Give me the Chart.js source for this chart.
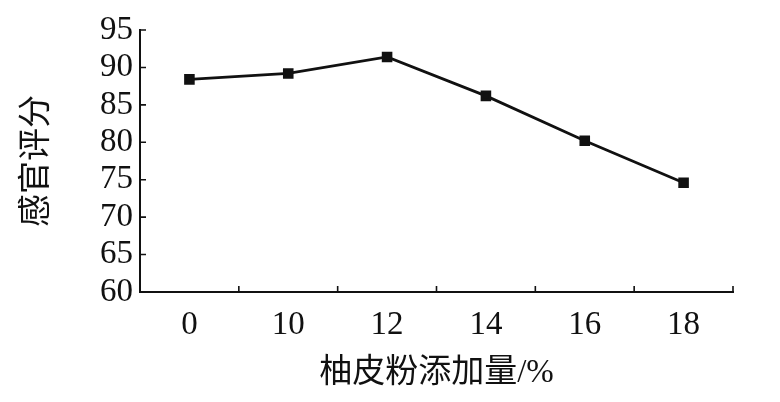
<!DOCTYPE html>
<html>
<head>
<meta charset="utf-8">
<script src="https://cdn.jsdelivr.net/npm/chart.js@4.4.1/dist/chart.umd.min.js"></script>
<style>
    html, body { margin: 0; padding: 0; background: #fff; }
    #wrap { width: 780px; height: 402px; position: relative; }
</style>
</head>
<body>
<div id="wrap"><canvas id="chart"></canvas></div>
<script>
// Data
const categories = ['0', '10', '12', '14', '16', '18'];
const scores = [88.4, 89.2, 91.4, 86.2, 80.2, 74.6];
const yTicks = [60, 65, 70, 75, 80, 85, 90, 95];

const ink = '#111';
const serif = '"Liberation Serif", "Times New Roman", "Noto Sans CJK SC"';

/**
 * Draw short inward tick marks on both axes
 */
const inwardTicks = {
    id: 'inwardTicks',
    afterDraw(chart) {
        const ctx = chart.ctx;
        const x = chart.scales.x;
        const y = chart.scales.y;
        const area = chart.chartArea;
        const len = 6;

        ctx.save();
        ctx.strokeStyle = ink;
        ctx.lineWidth = 1.6;
        ctx.beginPath();

        // y ticks point right, into the plot
        yTicks.forEach(v => {
            const py = y.getPixelForValue(v);
            ctx.moveTo(area.left, py);
            ctx.lineTo(area.left + len, py);
        });

        // x ticks sit between categories and at the right end
        for (let i = 0; i < categories.length - 1; i++) {
            const px = (x.getPixelForTick(i) + x.getPixelForTick(i + 1)) / 2;
            ctx.moveTo(px, area.bottom);
            ctx.lineTo(px, area.bottom - len);
        }
        ctx.moveTo(area.right, area.bottom);
        ctx.lineTo(area.right, area.bottom - len);

        ctx.stroke();
        ctx.restore();
    }
};

new Chart(document.getElementById('chart'), {
    type: 'line',
    data: {
        labels: categories,
        datasets: [{
            data: scores,
            borderColor: ink,
            backgroundColor: ink,
            borderWidth: 2.8,
            pointStyle: 'rect',
            pointRadius: 5.5,
            pointHoverRadius: 5.5,
            tension: 0
        }]
    },
    options: {
        responsive: true,
        maintainAspectRatio: false,
        animation: false,
        layout: {
            padding: { top: 30, right: 47, left: 0, bottom: 0 }
        },
        plugins: {
            legend: { display: false },
            tooltip: { enabled: false }
        },
        scales: {
            x: {
                type: 'category',
                offset: true,
                grid: { display: false, drawTicks: false },
                border: { display: true, color: ink, width: 2 },
                ticks: {
                    color: ink,
                    padding: 14,
                    autoSkip: false,
                    maxRotation: 0,
                    font: { family: serif, size: 33 }
                },
                title: {
                    display: true,
                    text: '柚皮粉添加量/%',
                    color: ink,
                    padding: { top: 0, bottom: 9 },
                    font: { family: serif, size: 33 }
                },
                afterFit(scale) { scale.height = 110; }
            },
            y: {
                min: 60,
                max: 95,
                afterBuildTicks(scale) {
                    scale.ticks = yTicks.map(v => ({ value: v }));
                },
                grid: { display: false, drawTicks: false },
                border: { display: true, color: ink, width: 2 },
                ticks: {
                    color: ink,
                    padding: 7,
                    autoSkip: false,
                    font: { family: serif, size: 33, lineHeight: 1 }
                },
                title: {
                    display: true,
                    text: '感官评分',
                    color: ink,
                    padding: { top: 18, bottom: 0 },
                    font: { family: serif, size: 33 }
                },
                afterFit(scale) { scale.width = 140; }
            }
        }
    },
    plugins: [inwardTicks]
});
</script>
</body>
</html>
